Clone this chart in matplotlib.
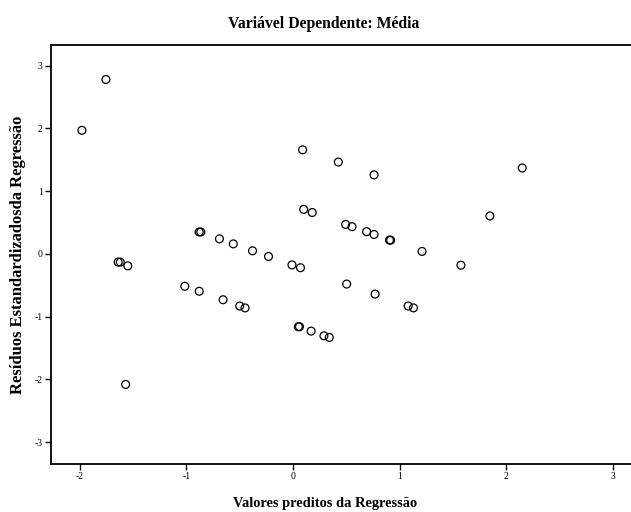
import matplotlib
matplotlib.use("Agg")
import matplotlib.pyplot as plt

# Valores preditos padronizados (eixo X)
preditos = [-1.98, -1.755, 0.09, -1.64, -1.62, -1.55, -0.88, -0.865, -0.69, -0.56,
            -0.38, -0.23, -0.01, 0.07, 0.10, 0.18, -1.015, -0.88, -0.656, -0.50,
            -0.45, 0.05, 0.06, 0.17, -1.57, 0.425, 0.76, 2.15, 0.494, 0.553,
            0.69, 0.76, 0.905, 0.915, 1.21, 1.575, 1.846, 0.503, 0.77, 1.08,
            1.13, 0.29, 0.34]
# Resíduos padronizados (eixo Y)
residuos = [1.97, 2.78, 1.66, -0.13, -0.13, -0.19, 0.35, 0.35, 0.24, 0.16,
            0.05, -0.04, -0.175, -0.22, 0.71, 0.66, -0.515, -0.595, -0.73, -0.83,
            -0.86, -1.16, -1.16, -1.23, -2.08, 1.465, 1.26, 1.37, 0.47, 0.435,
            0.355, 0.31, 0.22, 0.22, 0.04, -0.18, 0.605, -0.48, -0.64, -0.83,
            -0.86, -1.305, -1.33]
ticks_x = [-2, -1, 0, 1, 2, 3]
ticks_y = [-3, -2, -1, 0, 1, 2, 3]

plt.rcParams['font.family'] = ['Liberation Serif', 'DejaVu Serif']

fig = plt.figure(figsize=(6.31, 5.12), dpi=100)
ax = fig.add_axes([51/631, 1 - 463.5/512, 1 - 51/631, (463.5 - 45)/512])

ax.scatter(preditos, residuos, s=32, facecolors='none', edgecolors='black',
           linewidths=0.9, zorder=3)

ax.set_xlim(-2.27, 3.17)
ax.set_ylim(-3.34, 3.33)
ax.set_xticks(ticks_x)
ax.set_yticks(ticks_y)
ax.set_xticklabels([str(t) for t in ticks_x])
ax.set_yticklabels([str(t) for t in ticks_y])
ax.tick_params(direction='out', length=4, width=1, labelsize=7, pad=2,
               top=False, right=False)

for lado in ['left', 'bottom', 'top']:
    ax.spines[lado].set_linewidth(1.3)
ax.spines['right'].set_visible(False)

# Título e rótulos
fig.text(324/631, 1 - 28/512, "Variável Dependente: Média", ha='center',
         va='baseline', fontsize=11.3, fontweight='bold')
fig.text(325/631, 1 - 507/512, "Valores preditos da Regressão", ha='center',
         va='baseline', fontsize=10.4, fontweight='bold')
fig.text(18/631, 1 - 255/512, "Resíduos Estandardizadosda Regressão",
         ha='center', va='center', rotation=90, fontsize=12, fontweight='bold')

fig.savefig("out.png", dpi=100, facecolor='white')
